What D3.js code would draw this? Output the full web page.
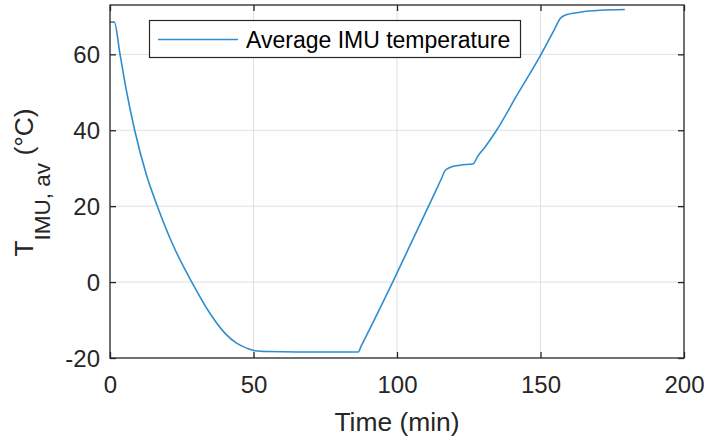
<!DOCTYPE html>
<html>
<head>
<meta charset="utf-8">
<script src="https://cdn.jsdelivr.net/npm/d3@7"></script>
<style>
  html, body { margin: 0; padding: 0; background: #fff; }
  svg { display: block; font-family: "Liberation Sans", Arial, Helvetica, sans-serif; }
</style>
</head>
<body>
<svg id="chart" width="708" height="443"></svg>
<script>
// Time since start of test (min)
const timeMin = [0, 1.5, 3.5, 5.7, 8.6, 12.6, 16.5, 22.1, 28.5, 34.8, 40.1, 44.1, 47.6, 50.5,
  55, 65, 75, 86.5, 87.5, 98.5, 111, 115.5, 116.7, 118.5, 122, 126.6, 128, 130.7, 134.7, 142,
  150.2, 155, 156.8, 158.5, 163.8, 170.7, 179.4];
// Average IMU temperature (°C)
const tempIMU = [68.5, 68.5, 60, 50.5, 40, 28.5, 20, 9.5, 0, -8.2, -13.5, -16.1, -17.4, -18.1,
  -18.3, -18.4, -18.4, -18.4, -16.9, 0, 20, 27.3, 29.3, 30.2, 30.8, 31.2, 33, 35.6, 40, 49.5,
  60, 66.8, 69.4, 70.3, 71.1, 71.6, 71.8];

const xTicks = [0, 50, 100, 150, 200];
const yTicks = [-20, 0, 20, 40, 60];
const xDomain = [0, 200];
const yDomain = [-20, 73];
const legendLabel = "Average IMU temperature";

const svg = d3.select("#chart");
const m = { left: 110, right: 684, top: 5, bottom: 358 };
const axisColor = "#262626";
const lineColor = "#2f8dcf";

const x = d3.scaleLinear().domain(xDomain).range([m.left, m.right]);
const y = d3.scaleLinear().domain(yDomain).range([m.bottom, m.top]);

// grid
const grid = svg.append("g").attr("stroke", "#e0e0e0").attr("stroke-width", 1);
grid.selectAll(".gx").data(xTicks.slice(1, -1)).join("line")
  .attr("x1", d => x(d)).attr("x2", d => x(d))
  .attr("y1", m.top).attr("y2", m.bottom);
grid.selectAll(".gy").data(yTicks.slice(1)).join("line")
  .attr("x1", m.left).attr("x2", m.right)
  .attr("y1", d => y(d)).attr("y2", d => y(d));

// data line
const line = d3.line()
  .x((d, i) => x(timeMin[i]))
  .y(d => y(d))
  .curve(d3.curveMonotoneX);
svg.append("path")
  .datum(tempIMU)
  .attr("d", line)
  .attr("fill", "none")
  .attr("stroke", lineColor)
  .attr("stroke-width", 1.6);

// axes: ticks inward on all four sides
const tl = 6;
const fmt = d => String(d);
const bottomAxis = d3.axisBottom(x).tickValues(xTicks).tickSize(-tl).tickPadding(18).tickFormat(fmt);
const topAxis = d3.axisTop(x).tickValues(xTicks).tickSize(-tl).tickFormat("");
const leftAxis = d3.axisLeft(y).tickValues(yTicks).tickSize(-tl).tickPadding(10).tickFormat(fmt);
const rightAxis = d3.axisRight(y).tickValues(yTicks).tickSize(-tl).tickFormat("");

function styleAxis(g) {
  g.select(".domain").remove();
  g.selectAll(".tick line").attr("stroke", axisColor).attr("stroke-width", 1.3);
  g.selectAll(".tick text").attr("fill", axisColor).style("font-size", "24px")
    .style("font-family", "'Liberation Sans', Arial, sans-serif");
}
svg.append("g").attr("transform", `translate(0,${m.bottom})`).call(bottomAxis).call(styleAxis)
  .selectAll(".tick text").attr("dy", "0.71em");
svg.append("g").attr("transform", `translate(0,${m.top})`).call(topAxis).call(styleAxis);
svg.append("g").attr("transform", `translate(${m.left},0)`).call(leftAxis).call(styleAxis)
  .selectAll(".tick text").attr("dy", "0.36em");
svg.append("g").attr("transform", `translate(${m.right},0)`).call(rightAxis).call(styleAxis);

// box
svg.append("rect")
  .attr("x", m.left).attr("y", m.top)
  .attr("width", m.right - m.left).attr("height", m.bottom - m.top)
  .attr("fill", "none").attr("stroke", axisColor).attr("stroke-width", 1.3);

// axis titles
svg.append("text")
  .attr("x", (m.left + m.right) / 2).attr("y", 431)
  .attr("text-anchor", "middle").attr("fill", axisColor)
  .style("font-size", "26.4px")
  .text("Time (min)");

const yl = svg.append("text")
  .attr("transform", `translate(33,182.5) rotate(-90)`)
  .attr("text-anchor", "middle").attr("fill", axisColor)
  .style("font-size", "26.4px");
yl.append("tspan").text("T");
yl.append("tspan").attr("dy", 16.5).style("font-size", "22.5px").text("IMU, av");
yl.append("tspan").attr("dy", -16.5).text(" (°C)");

// legend
const lg = svg.append("g");
lg.append("rect")
  .attr("x", 149.5).attr("y", 20.5).attr("width", 371).attr("height", 37)
  .attr("fill", "#fff").attr("stroke", axisColor).attr("stroke-width", 1.2);
lg.append("line")
  .attr("x1", 158).attr("x2", 238).attr("y1", 39.5).attr("y2", 39.5)
  .attr("stroke", lineColor).attr("stroke-width", 1.6);
lg.append("text")
  .attr("x", 246).attr("y", 47.5).attr("fill", "#000")
  .style("font-size", "23px")
  .text(legendLabel);
</script>
</body>
</html>
